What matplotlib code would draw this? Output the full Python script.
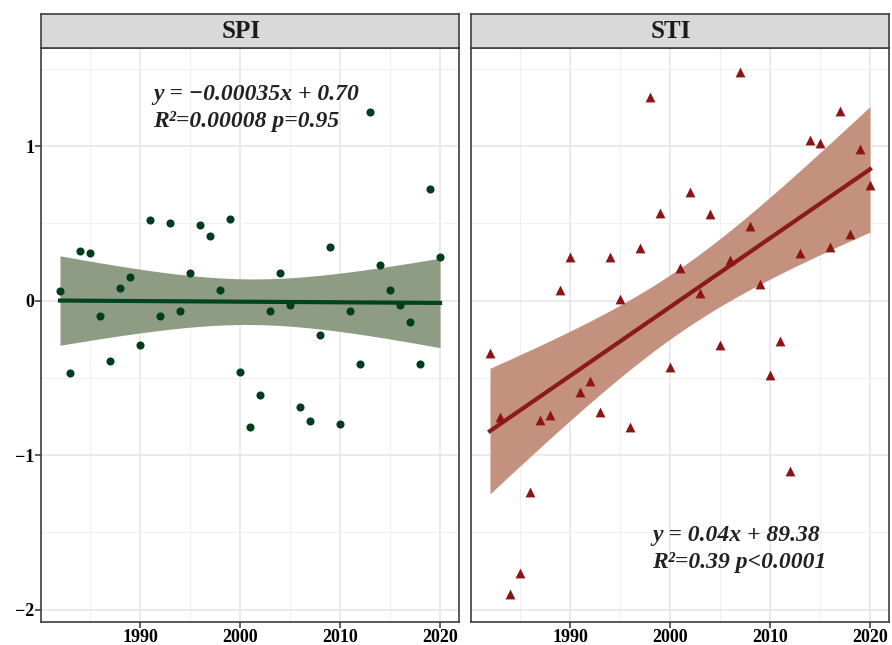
import numpy as np
import matplotlib
matplotlib.use("Agg")
import matplotlib.pyplot as plt

plt.rcParams['font.family'] = ['Liberation Serif', 'DejaVu Serif']

years = np.arange(1982, 2021)

spi = [0.06, -0.47, 0.32, 0.31, -0.10, -0.39, 0.08, 0.15, -0.29, 0.52,
       -0.10, 0.50, -0.07, 0.18, 0.49, 0.42, 0.07, 0.53, -0.46, -0.82,
       -0.61, -0.07, 0.18, -0.03, -0.69, -0.78, -0.22, 0.35, -0.80, -0.07,
       -0.41, 1.22, 0.23, 0.07, -0.03, -0.14, -0.41, 0.72, 0.28]

sti = [-0.34, -0.75, -1.90, -1.76, -1.24, -0.77, -0.74, 0.07, 0.28, -0.59,
       -0.52, -0.72, 0.28, 0.01, -0.82, 0.34, 1.32, 0.57, -0.43, 0.21,
       0.70, 0.05, 0.56, -0.29, 0.26, 1.48, 0.48, 0.11, -0.48, -0.26,
       -1.10, 0.31, 1.04, 1.02, 0.35, 1.23, 0.43, 0.98, 0.75]

panels = ["SPI", "STI"]
labels = [["y = \u22120.00035x + 0.70", "R\u00b2=0.00008 p=0.95"],
          ["y = 0.04x + 89.38", "R\u00b2=0.39 p<0.0001"]]


def lm_band(x, y):
    # linear fit with 95% confidence band, like geom_smooth(method="lm")
    x = np.asarray(x, float)
    y = np.asarray(y, float)
    n = len(x)
    b, a = np.polyfit(x, y, 1)
    xs = np.linspace(x.min(), x.max(), 100)
    fit = a + b * xs
    resid = y - (a + b * x)
    s = np.sqrt(np.sum(resid ** 2) / (n - 2))
    se = s * np.sqrt(1 / n + (xs - x.mean()) ** 2 / np.sum((x - x.mean()) ** 2))
    t = 2.026  # t(0.975, 37)
    return xs, fit, fit - t * se, fit + t * se


fig = plt.figure(figsize=(8.92, 6.45), dpi=100)
W, H = 892, 645
ax1 = fig.add_axes([41 / W, 23 / H, 418 / W, 574 / H])
ax2 = fig.add_axes([471 / W, 23 / H, 418 / W, 574 / H], sharey=ax1)

styles = [
    dict(series=spi, pt="#003d1c", line="#00431f", band="#8e9c83", marker="o", ms=34),
    dict(series=sti, pt="#8b1414", line="#8b1a1a", band="#c4917e", marker="^", ms=50),
]

for ax, name, st in zip([ax1, ax2], panels, styles):
    xs, fit, lo, hi = lm_band(years, st["series"])
    ax.fill_between(xs, lo, hi, color=st["band"], lw=0, zorder=2)
    ax.plot(xs, fit, color=st["line"], lw=3, zorder=3)
    ax.scatter(years, st["series"], s=st["ms"], marker=st["marker"],
               color=st["pt"], lw=0, zorder=4)

    ax.set_xlim(1980.1, 2021.9)
    ax.set_ylim(-2.08, 1.635)
    ax.set_xticks([1990, 2000, 2010, 2020])
    ax.set_xticks([1985, 1995, 2005, 2015], minor=True)
    ax.set_yticks([-2, -1, 0, 1])
    ax.set_yticks([-1.5, -0.5, 0.5, 1.5], minor=True)
    ax.grid(which="major", color="#e6e6e6", lw=1.1, zorder=0)
    ax.grid(which="minor", color="#f0f0f0", lw=0.8, zorder=0)
    ax.set_axisbelow(True)
    for sp in ax.spines.values():
        sp.set_color("#3a3f3f")
        sp.set_linewidth(1.2)
    ax.tick_params(which="major", length=4, width=1.1, color="#333333",
                   labelsize=13, pad=1)
    ax.tick_params(which="minor", length=0)
    for t in ax.get_xticklabels() + ax.get_yticklabels():
        t.set_fontweight("bold")

    # facet strip
    strip = fig.add_axes([ax.get_position().x0, 597 / H, 418 / W, 34 / H])
    strip.set_xticks([])
    strip.set_yticks([])
    strip.set_facecolor("#d9d9d9")
    for sp in strip.spines.values():
        sp.set_color("#3a3f3f")
        sp.set_linewidth(1.2)
    strip.text(0.478, 0.5, name, ha="center", va="center", fontsize=18,
               fontweight="bold", color="#1a1a1a")

plt.setp(ax2.get_yticklabels(), visible=False)
ax2.tick_params(axis="y", length=0)

txt = dict(fontsize=17, fontweight="bold", style="italic", color="#222222",
           va="center")
ax1.text(1991.3, 1.335, labels[0][0], **txt)
ax1.text(1991.3, 1.16, labels[0][1], **txt)
ax2.text(1998.2, -1.52, labels[1][0], **txt)
ax2.text(1998.2, -1.695, labels[1][1], **txt)

fig.savefig("out.png", dpi=100)
